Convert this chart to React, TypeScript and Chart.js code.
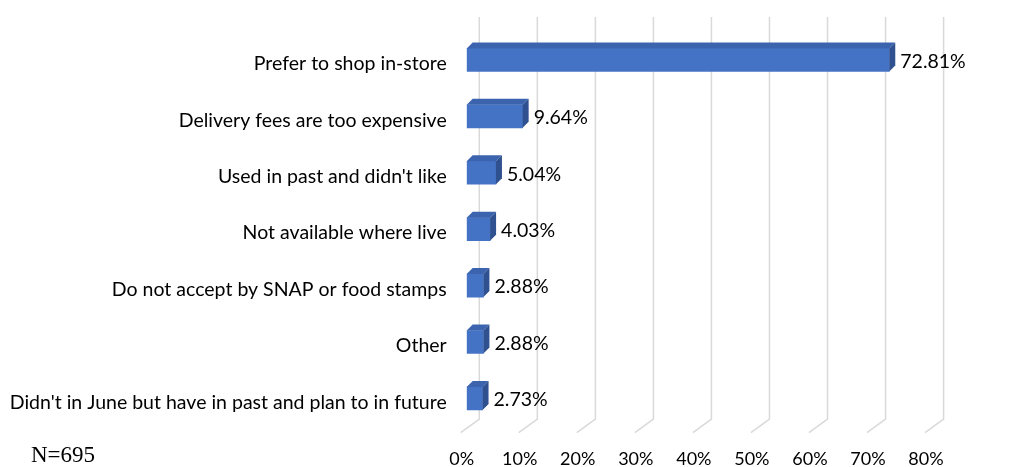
import React, { useEffect, useRef } from "react";
import { Chart, registerables } from "chart.js";

Chart.register(...registerables);

const categories = [
  "Prefer to shop in-store",
  "Delivery fees are too expensive",
  "Used in past and didn't like",
  "Not available where live",
  "Do not accept by SNAP or food stamps",
  "Other",
  "Didn't in June but have in past and plan to in future",
];
const values = [72.81, 9.64, 5.04, 4.03, 2.88, 2.88, 2.73];
const xTickMax = 80;
const xTickStep = 10;
const footnote = "N=695";

const FRONT = "#4472C4";
const TOP = "#3C64AE";
const SIDE = "#2F5190";
const GRID = "#D9D9D9";
const FONT = "Lato, 'Open Sans', sans-serif";

const threeD = {
  id: "threeD",
  beforeDatasetsDraw(chart: any) {
    const ctx = chart.ctx;
    const xs = chart.scales.x;
    ctx.save();
    ctx.strokeStyle = GRID;
    ctx.lineWidth = 1.5;
    for (let v = 0; v <= xTickMax; v += xTickStep) {
      const px = xs.getPixelForValue(v);
      const bx = px + 12.6;
      ctx.beginPath();
      ctx.moveTo(bx, 17);
      ctx.lineTo(bx, 419);
      ctx.lineTo(bx - 18.6, 432.7);
      ctx.stroke();
    }
    ctx.restore();
  },
  afterDatasetsDraw(chart: any) {
    const ctx = chart.ctx;
    const meta = chart.getDatasetMeta(0);
    const d = 6;
    ctx.save();
    meta.data.forEach((el: any, i: number) => {
      const p = el.getProps(["x", "y", "base", "height"], true);
      const x0 = p.base;
      const x1 = p.x;
      const y0 = p.y - p.height / 2;
      const y1 = p.y + p.height / 2;
      ctx.fillStyle = TOP;
      ctx.beginPath();
      ctx.moveTo(x0, y0);
      ctx.lineTo(x0 + d, y0 - d);
      ctx.lineTo(x1 + d, y0 - d);
      ctx.lineTo(x1, y0);
      ctx.closePath();
      ctx.fill();
      ctx.fillStyle = SIDE;
      ctx.beginPath();
      ctx.moveTo(x1, y0);
      ctx.lineTo(x1 + d, y0 - d);
      ctx.lineTo(x1 + d, y1 - d);
      ctx.lineTo(x1, y1);
      ctx.closePath();
      ctx.fill();
      ctx.fillStyle = "#000";
      ctx.font = `19.5px ${FONT}`;
      ctx.textAlign = "left";
      ctx.textBaseline = "middle";
      ctx.fillText(values[i].toFixed(2) + "%", x1 + 11, p.y + 1.5);
    });
    ctx.restore();
  },
};

export default function App() {
  const ref = useRef<HTMLCanvasElement>(null);
  useEffect(() => {
    if (!ref.current) return;
    const chart = new Chart(ref.current, {
      type: "bar",
      data: {
        labels: categories,
        datasets: [
          {
            data: values,
            backgroundColor: FRONT,
            borderWidth: 0,
            barThickness: 23,
          },
        ],
      },
      options: {
        indexAxis: "y",
        animation: false,
        responsive: false,
        devicePixelRatio: 1,
        layout: { padding: { left: 0, top: 28.6, right: 103, bottom: 0 } },
        plugins: { legend: { display: false }, tooltip: { enabled: false } },
        scales: {
          x: {
            min: 0,
            max: xTickMax,
            grid: { display: false, drawTicks: false },
            border: { display: false },
            ticks: {
              stepSize: xTickStep,
              padding: 22,
              labelOffset: -5,
              color: "#000",
              font: { family: FONT, size: 18 },
              callback: (v: any) => v + "%",
            },
            afterFit: (s: any) => {
              s.height = 40.4;
            },
          },
          y: {
            grid: { display: false, drawTicks: false },
            border: { display: false },
            ticks: {
              padding: 20,
              labelOffset: 4,
              color: "#000",
              font: { family: FONT, size: 19.5 },
              autoSkip: false,
            },
            afterFit: (s: any) => {
              s.width = 466.7;
            },
          },
        },
      },
      plugins: [threeD],
    });
    return () => chart.destroy();
  }, []);
  return (
    <div style={{ position: "fixed", left: 0, top: 0, width: 1034, height: 467, background: "#fff" }}>
      <canvas ref={ref} width={1034} height={467} style={{ width: 1034, height: 467 }} />
      <div
        style={{
          position: "absolute",
          left: 31,
          top: 442,
          fontFamily: "'Liberation Serif', 'Times New Roman', serif",
          fontSize: 23,
          lineHeight: "25px",
          color: "#000",
        }}
      >
        {footnote}
      </div>
    </div>
  );
}
